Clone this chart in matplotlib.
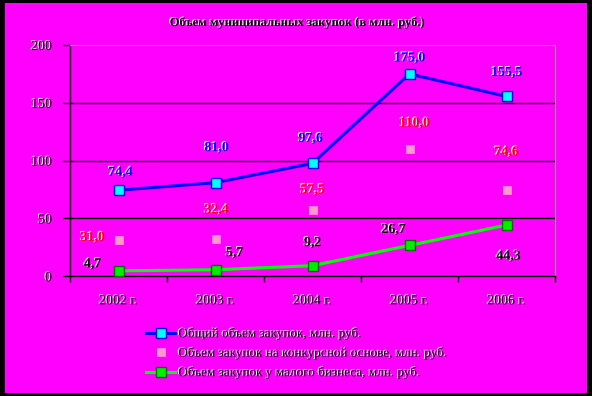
import matplotlib
matplotlib.use("Agg")
import matplotlib.pyplot as plt
import matplotlib.patheffects as pe
from matplotlib.patches import Rectangle

years = ["2002 г.", "2003 г.", "2004 г.", "2005 г.", "2006 г."]
total = [74.4, 81.0, 97.6, 175.0, 155.5]
competitive = [31.0, 32.4, 57.5, 110.0, 74.6]
small_biz = [4.7, 5.7, 9.2, 26.7, 44.3]
yticks = [0, 50, 100, 150, 200]
title = "Объем муниципальных закупок (в млн. руб.)"
legend_labels = ["Общий объем закупок, млн. руб.",
                 "Объем закупок на конкурсной основе, млн. руб.",
                 "Объем закупок у малого бизнеса, млн. руб."]

# label offsets in pixels (dx, dy up)
off_total = [(2, 18), (1, 35), (-2, 25), (0, 16), (0, 24)]
off_comp = [(-26, 3), (1, 29), (0, 20), (5, 26), (0, 38)]
off_small = [(-26, 7), (19, 17), (0, 23), (-16, 16), (2, -31)]

W, H = 592, 396
fig = plt.figure(figsize=(W / 100, H / 100), dpi=100)
fig.patch.set_facecolor("black")
bg = Rectangle((5 / W, 3 / H), (587 - 5) / W, (393 - 3) / H,
               transform=fig.transFigure, facecolor="#FF00FF",
               edgecolor="none", zorder=-10)
fig.patches.append(bg)

MAG = "#FF00FF"
ax = fig.add_axes([70 / W, (H - 276.3) / H, (555 - 70) / W, (276.3 - 45) / H])
ax.set_facecolor(MAG)

serif = "Liberation Serif"
shadow = [pe.SimplePatchShadow(offset=(-0.8, 0.6), shadow_rgbFace="white", alpha=1.0), pe.Normal()]

x = list(range(len(years)))
ax.set_xlim(-0.5, len(years) - 0.5)
ax.set_ylim(0, 200)
ax.set_yticks(yticks)
for yv in yticks[1:-1]:
    ax.axhline(yv, color="black", lw=1.0, zorder=1)

ax.plot(x, total, color="#0000FF", lw=2.2, marker="s", ms=7, mfc="#00FFFF",
        mec="#0000FF", mew=1.0, zorder=3, label=legend_labels[0])
ax.plot(x, competitive, ls="none", marker="s", ms=5.5, mfc="#FF99CC",
        mec="#FF99CC", mew=0.5, zorder=3, label=legend_labels[1])
ax.plot(x, small_biz, color="#00FF00", lw=2.2, marker="s", ms=7, mfc="#00EE00",
        mec="#007000", mew=1.0, zorder=3, label=legend_labels[2])

def fmt(v):
    return f"{v:.1f}".replace(".", ",")

for vals, offs, col in [(total, off_total, "#0000FF"),
                        (competitive, off_comp, "#FF0000"),
                        (small_biz, off_small, "black")]:
    for xi, v, (dx, dy) in zip(x, vals, offs):
        ax.annotate(fmt(v), (xi, v), xytext=(dx * 0.72, dy * 0.72),
                    textcoords="offset points", ha="center", va="center",
                    fontsize=10, fontweight="bold", family=serif, color=col,
                    path_effects=shadow, zorder=4)

ax.set_xticks(x)
ax.set_xticklabels(years, family=serif, fontsize=10, path_effects=shadow)
ax.set_xticks([i - 0.5 for i in range(len(years) + 1)], minor=True)
ax.tick_params(axis="x", which="major", length=0, pad=13)
ax.tick_params(axis="x", which="minor", length=4, width=1, color="black", direction="out")
ax.tick_params(axis="y", length=5, width=1, color="black", direction="out", pad=8)
for lab in ax.get_yticklabels():
    lab.set_family(serif)
    lab.set_fontsize(10)
    lab.set_path_effects(shadow)

ax.spines["left"].set_color("black")
ax.spines["bottom"].set_color("black")
ax.spines["left"].set_linewidth(1.0)
ax.spines["bottom"].set_linewidth(1.0)
ax.spines["top"].set_color("#909090")
ax.spines["right"].set_color("#909090")

fig.text(297 / W, (H - 23) / H, title, ha="center", va="center", family=serif,
         fontsize=9, fontweight="bold", color="black", path_effects=shadow)

leg = ax.legend(loc="upper left", bbox_to_anchor=(146 / W, (H - 328) / H),
                bbox_transform=fig.transFigure, frameon=False,
                prop={"family": serif, "size": 9.5}, handlelength=2.2,
                handletextpad=0.25, labelspacing=0.55, borderaxespad=0,
                borderpad=0)
for t in leg.get_texts():
    t.set_path_effects(shadow)

fig.savefig("out.png", dpi=100, facecolor=fig.get_facecolor())
